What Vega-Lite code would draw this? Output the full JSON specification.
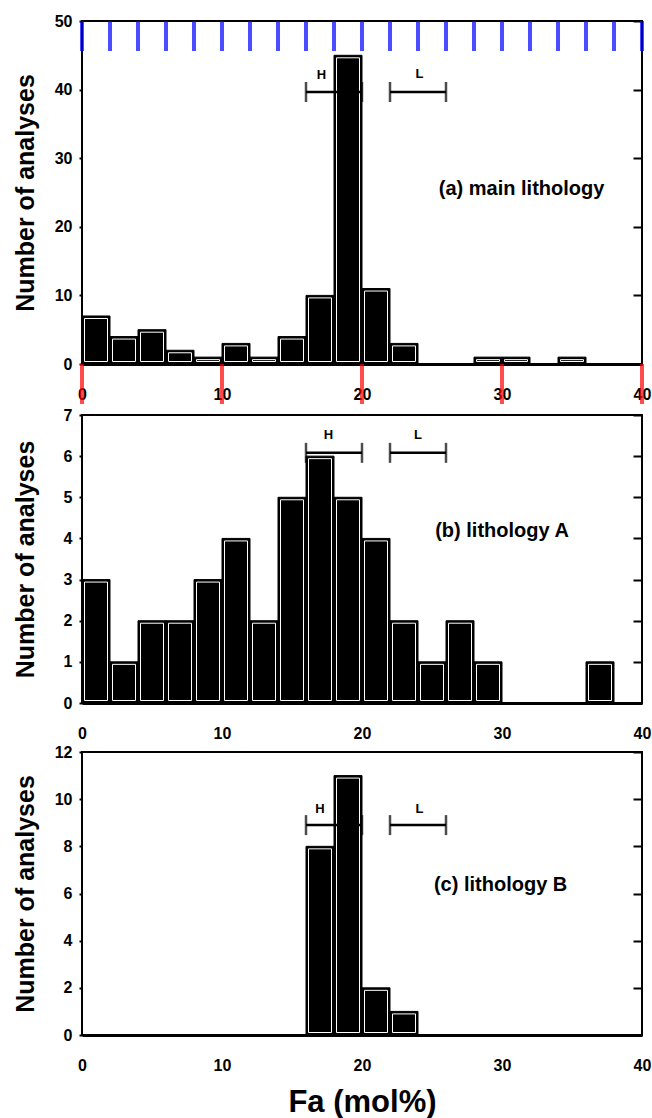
{
  "$schema": "https://vega.github.io/schema/vega-lite/v6.json",
  "background": "white",
  "padding": {"left": 12, "top": 12, "right": 0, "bottom": 0},
  "datasets": {
    "bars": [
      {"p": "a", "lo": 0, "hi": 2, "n": 7},
      {"p": "a", "lo": 2, "hi": 4, "n": 4},
      {"p": "a", "lo": 4, "hi": 6, "n": 5},
      {"p": "a", "lo": 6, "hi": 8, "n": 2},
      {"p": "a", "lo": 8, "hi": 10, "n": 1},
      {"p": "a", "lo": 10, "hi": 12, "n": 3},
      {"p": "a", "lo": 12, "hi": 14, "n": 1},
      {"p": "a", "lo": 14, "hi": 16, "n": 4},
      {"p": "a", "lo": 16, "hi": 18, "n": 10},
      {"p": "a", "lo": 18, "hi": 20, "n": 45},
      {"p": "a", "lo": 20, "hi": 22, "n": 11},
      {"p": "a", "lo": 22, "hi": 24, "n": 3},
      {"p": "a", "lo": 28, "hi": 30, "n": 1},
      {"p": "a", "lo": 30, "hi": 32, "n": 1},
      {"p": "a", "lo": 34, "hi": 36, "n": 1},
      {"p": "b", "lo": 0, "hi": 2, "n": 3},
      {"p": "b", "lo": 2, "hi": 4, "n": 1},
      {"p": "b", "lo": 4, "hi": 6, "n": 2},
      {"p": "b", "lo": 6, "hi": 8, "n": 2},
      {"p": "b", "lo": 8, "hi": 10, "n": 3},
      {"p": "b", "lo": 10, "hi": 12, "n": 4},
      {"p": "b", "lo": 12, "hi": 14, "n": 2},
      {"p": "b", "lo": 14, "hi": 16, "n": 5},
      {"p": "b", "lo": 16, "hi": 18, "n": 6},
      {"p": "b", "lo": 18, "hi": 20, "n": 5},
      {"p": "b", "lo": 20, "hi": 22, "n": 4},
      {"p": "b", "lo": 22, "hi": 24, "n": 2},
      {"p": "b", "lo": 24, "hi": 26, "n": 1},
      {"p": "b", "lo": 26, "hi": 28, "n": 2},
      {"p": "b", "lo": 28, "hi": 30, "n": 1},
      {"p": "b", "lo": 36, "hi": 38, "n": 1},
      {"p": "c", "lo": 16, "hi": 18, "n": 8},
      {"p": "c", "lo": 18, "hi": 20, "n": 11},
      {"p": "c", "lo": 20, "hi": 22, "n": 2},
      {"p": "c", "lo": 22, "hi": 24, "n": 1}
    ],
    "ranges": [
      {"p": "a", "name": "H", "lo": 16, "hi": 20, "y": 39.65, "lx": 17.1, "ly": 42.2},
      {"p": "a", "name": "L", "lo": 22, "hi": 26, "y": 39.65, "lx": 24.1, "ly": 42.3},
      {"p": "b", "name": "H", "lo": 16, "hi": 20, "y": 6.08, "lx": 17.6, "ly": 6.52},
      {"p": "b", "name": "L", "lo": 22, "hi": 26, "y": 6.08, "lx": 24.0, "ly": 6.52},
      {"p": "c", "name": "H", "lo": 16, "hi": 20, "y": 8.9, "lx": 17.0, "ly": 9.6},
      {"p": "c", "name": "L", "lo": 22, "hi": 26, "y": 8.9, "lx": 24.1, "ly": 9.6}
    ],
    "labels": [
      {"p": "a", "text": "(a) main lithology", "x": 31.4, "y": 25.5},
      {"p": "b", "text": "(b) lithology A", "x": 30.0, "y": 4.18},
      {"p": "c", "text": "(c) lithology B", "x": 29.9, "y": 6.35}
    ],
    "xt": [
      {"v": 0, "major": true}, {"v": 2, "major": false}, {"v": 4, "major": false}, {"v": 6, "major": false}, {"v": 8, "major": false},
      {"v": 10, "major": true}, {"v": 12, "major": false}, {"v": 14, "major": false}, {"v": 16, "major": false}, {"v": 18, "major": false},
      {"v": 20, "major": true}, {"v": 22, "major": false}, {"v": 24, "major": false}, {"v": 26, "major": false}, {"v": 28, "major": false},
      {"v": 30, "major": true}, {"v": 32, "major": false}, {"v": 34, "major": false}, {"v": 36, "major": false}, {"v": 38, "major": false},
      {"v": 40, "major": true}
    ]
  },
  "vconcat": [
    {
      "width": 560,
      "height": 343,
      "resolve": {"axis": {"x": "independent", "y": "independent"}},
      "layer": [
        {
          "data": {"name": "bars"},
          "transform": [{"filter": "datum.p === 'a'"}],
          "mark": {"type": "bar", "color": "black", "stroke": "black", "strokeWidth": 1},
          "encoding": {
            "x": {"field": "lo", "type": "quantitative", "scale": {"domain": [0, 40], "nice": false, "zero": false},
              "axis": {"orient": "bottom", "title": null, "values": [0,10,20,30,40], "domainWidth": 3, "ticks": false, "labelPadding": 22, "labelFlush": false}},
            "x2": {"field": "hi"},
            "y": {"field": "n", "type": "quantitative", "scale": {"domain": [0, 50], "nice": false},
              "axis": {"orient": "left", "values": [0,10,20,30,40,50], "title": "Number of analyses", "ticks": true, "tickSize": 3, "labelPadding": 7,
                "domain": false, "titleX": -57, "titleBaseline": "middle", "titleFontSize": 25, "titleFontWeight": "bold"}},
            "y2": {"datum": 0}
          }
        },
        {
          "data": {"name": "bars"},
          "transform": [{"filter": "datum.p === 'a'"}],
          "mark": {"type": "bar", "filled": false, "stroke": "white", "strokeWidth": 1, "xOffset": 2.5, "x2Offset": -2.5, "yOffset": 2.5, "y2Offset": -2.5},
          "encoding": {
            "x": {"field": "lo", "type": "quantitative", "axis": null},
            "x2": {"field": "hi"},
            "y": {"field": "n", "type": "quantitative",
              "axis": {"orient": "right", "title": null, "labels": false, "domain": false, "ticks": true, "tickSize": 9, "offset": -9, "values": [0,10,20,30,40,50]}},
            "y2": {"datum": 0}
          }
        },
        {
          "data": {"name": "xt"},
          "transform": [{"filter": "datum.major"}],
          "mark": {"type": "tick", "orient": "vertical", "color": "red", "size": 40, "thickness": 4, "yOffset": 20},
          "encoding": {
            "x": {"field": "v", "type": "quantitative", "axis": null},
            "y": {"datum": 0, "type": "quantitative", "axis": null}
          }
        },
        {
          "data": {"name": "xt"},
          "mark": {"type": "tick", "orient": "vertical", "color": "blue", "size": 30, "thickness": 4, "yOffset": 15},
          "encoding": {
            "x": {"field": "v", "type": "quantitative", "axis": null},
            "y": {"datum": 50, "type": "quantitative", "axis": null}
          }
        },
        {
          "data": {"name": "ranges"},
          "transform": [{"filter": "datum.p === 'a'"}],
          "mark": {"type": "rule", "color": "black", "strokeWidth": 2.5},
          "encoding": {
            "x": {"field": "lo", "type": "quantitative", "axis": null},
            "x2": {"field": "hi"},
            "y": {"field": "y", "type": "quantitative", "axis": null}
          }
        },
        {
          "data": {"name": "ranges"},
          "transform": [{"filter": "datum.p === 'a'"}, {"fold": ["lo", "hi"], "as": ["k", "xv"]}],
          "mark": {"type": "tick", "orient": "vertical", "color": "black", "size": 20, "thickness": 2.5},
          "encoding": {
            "x": {"field": "xv", "type": "quantitative", "axis": null},
            "y": {"field": "y", "type": "quantitative", "axis": null}
          }
        },
        {
          "data": {"name": "ranges"},
          "transform": [{"filter": "datum.p === 'a'"}],
          "mark": {"type": "text", "font": "Liberation Sans", "fontWeight": "bold", "fontSize": 13, "color": "black"},
          "encoding": {
            "x": {"field": "lx", "type": "quantitative", "axis": null},
            "y": {"field": "ly", "type": "quantitative", "axis": null},
            "text": {"field": "name"}
          }
        },
        {
          "data": {"name": "labels"},
          "transform": [{"filter": "datum.p === 'a'"}],
          "mark": {"type": "text", "font": "Liberation Sans", "fontWeight": "bold", "fontSize": 20, "color": "black"},
          "encoding": {
            "x": {"field": "x", "type": "quantitative", "axis": null},
            "y": {"field": "y", "type": "quantitative", "axis": null},
            "text": {"field": "text"}
          }
        }
      ]
    },
    {
      "width": 560,
      "height": 288,
      "resolve": {"axis": {"x": "independent", "y": "independent"}},
      "layer": [
        {
          "data": {"name": "bars"},
          "transform": [{"filter": "datum.p === 'b'"}],
          "mark": {"type": "bar", "color": "black", "stroke": "black", "strokeWidth": 1},
          "encoding": {
            "x": {"field": "lo", "type": "quantitative", "scale": {"domain": [0, 40], "nice": false, "zero": false},
              "axis": {"orient": "bottom", "title": null, "values": [0,10,20,30,40], "domainWidth": 3, "ticks": false, "labelPadding": 22, "labelFlush": false}},
            "x2": {"field": "hi"},
            "y": {"field": "n", "type": "quantitative", "scale": {"domain": [0, 7], "nice": false},
              "axis": {"orient": "left", "values": [0,1,2,3,4,5,6,7], "title": "Number of analyses", "ticks": true, "tickSize": 3, "labelPadding": 7,
                "domain": false, "titleX": -57, "titleBaseline": "middle", "titleFontSize": 25, "titleFontWeight": "bold"}},
            "y2": {"datum": 0}
          }
        },
        {
          "data": {"name": "bars"},
          "transform": [{"filter": "datum.p === 'b'"}],
          "mark": {"type": "bar", "filled": false, "stroke": "white", "strokeWidth": 1, "xOffset": 2.5, "x2Offset": -2.5, "yOffset": 2.5, "y2Offset": -2.5},
          "encoding": {
            "x": {"field": "lo", "type": "quantitative", "axis": null},
            "x2": {"field": "hi"},
            "y": {"field": "n", "type": "quantitative",
              "axis": {"orient": "right", "title": null, "labels": false, "domain": false, "ticks": true, "tickSize": 9, "offset": -9, "values": [0,1,2,3,4,5,6,7]}},
            "y2": {"datum": 0}
          }
        },
        {
          "data": {"name": "ranges"},
          "transform": [{"filter": "datum.p === 'b'"}],
          "mark": {"type": "rule", "color": "black", "strokeWidth": 2.5},
          "encoding": {
            "x": {"field": "lo", "type": "quantitative", "axis": null},
            "x2": {"field": "hi"},
            "y": {"field": "y", "type": "quantitative", "axis": null}
          }
        },
        {
          "data": {"name": "ranges"},
          "transform": [{"filter": "datum.p === 'b'"}, {"fold": ["lo", "hi"], "as": ["k", "xv"]}],
          "mark": {"type": "tick", "orient": "vertical", "color": "black", "size": 20, "thickness": 2.5},
          "encoding": {
            "x": {"field": "xv", "type": "quantitative", "axis": null},
            "y": {"field": "y", "type": "quantitative", "axis": null}
          }
        },
        {
          "data": {"name": "ranges"},
          "transform": [{"filter": "datum.p === 'b'"}],
          "mark": {"type": "text", "font": "Liberation Sans", "fontWeight": "bold", "fontSize": 13, "color": "black"},
          "encoding": {
            "x": {"field": "lx", "type": "quantitative", "axis": null},
            "y": {"field": "ly", "type": "quantitative", "axis": null},
            "text": {"field": "name"}
          }
        },
        {
          "data": {"name": "labels"},
          "transform": [{"filter": "datum.p === 'b'"}],
          "mark": {"type": "text", "font": "Liberation Sans", "fontWeight": "bold", "fontSize": 20, "color": "black"},
          "encoding": {
            "x": {"field": "x", "type": "quantitative", "axis": null},
            "y": {"field": "y", "type": "quantitative", "axis": null},
            "text": {"field": "text"}
          }
        }
      ]
    },
    {
      "width": 560,
      "height": 283,
      "resolve": {"axis": {"x": "independent", "y": "independent"}},
      "layer": [
        {
          "data": {"name": "bars"},
          "transform": [{"filter": "datum.p === 'c'"}],
          "mark": {"type": "bar", "color": "black", "stroke": "black", "strokeWidth": 1},
          "encoding": {
            "x": {"field": "lo", "type": "quantitative", "scale": {"domain": [0, 40], "nice": false, "zero": false},
              "axis": {"orient": "bottom", "title": "Fa (mol%)", "titleFontSize": 31, "titleFontWeight": "bold", "titlePadding": 14,
                "values": [0,10,20,30,40], "domainWidth": 3, "ticks": false, "labelPadding": 22, "labelFlush": false}},
            "x2": {"field": "hi"},
            "y": {"field": "n", "type": "quantitative", "scale": {"domain": [0, 12], "nice": false},
              "axis": {"orient": "left", "values": [0,2,4,6,8,10,12], "title": "Number of analyses", "ticks": true, "tickSize": 3, "labelPadding": 7,
                "domain": false, "titleX": -57, "titleBaseline": "middle", "titleFontSize": 25, "titleFontWeight": "bold"}},
            "y2": {"datum": 0}
          }
        },
        {
          "data": {"name": "bars"},
          "transform": [{"filter": "datum.p === 'c'"}],
          "mark": {"type": "bar", "filled": false, "stroke": "white", "strokeWidth": 1, "xOffset": 2.5, "x2Offset": -2.5, "yOffset": 2.5, "y2Offset": -2.5},
          "encoding": {
            "x": {"field": "lo", "type": "quantitative", "axis": null},
            "x2": {"field": "hi"},
            "y": {"field": "n", "type": "quantitative",
              "axis": {"orient": "right", "title": null, "labels": false, "domain": false, "ticks": true, "tickSize": 9, "offset": -9, "values": [0,2,4,6,8,10,12]}},
            "y2": {"datum": 0}
          }
        },
        {
          "data": {"name": "ranges"},
          "transform": [{"filter": "datum.p === 'c'"}],
          "mark": {"type": "rule", "color": "black", "strokeWidth": 2.5},
          "encoding": {
            "x": {"field": "lo", "type": "quantitative", "axis": null},
            "x2": {"field": "hi"},
            "y": {"field": "y", "type": "quantitative", "axis": null}
          }
        },
        {
          "data": {"name": "ranges"},
          "transform": [{"filter": "datum.p === 'c'"}, {"fold": ["lo", "hi"], "as": ["k", "xv"]}],
          "mark": {"type": "tick", "orient": "vertical", "color": "black", "size": 20, "thickness": 2.5},
          "encoding": {
            "x": {"field": "xv", "type": "quantitative", "axis": null},
            "y": {"field": "y", "type": "quantitative", "axis": null}
          }
        },
        {
          "data": {"name": "ranges"},
          "transform": [{"filter": "datum.p === 'c'"}],
          "mark": {"type": "text", "font": "Liberation Sans", "fontWeight": "bold", "fontSize": 13, "color": "black"},
          "encoding": {
            "x": {"field": "lx", "type": "quantitative", "axis": null},
            "y": {"field": "ly", "type": "quantitative", "axis": null},
            "text": {"field": "name"}
          }
        },
        {
          "data": {"name": "labels"},
          "transform": [{"filter": "datum.p === 'c'"}],
          "mark": {"type": "text", "font": "Liberation Sans", "fontWeight": "bold", "fontSize": 20, "color": "black"},
          "encoding": {
            "x": {"field": "x", "type": "quantitative", "axis": null},
            "y": {"field": "y", "type": "quantitative", "axis": null},
            "text": {"field": "text"}
          }
        }
      ]
    }
  ],
  "config": {
    "view": {"stroke": "black", "strokeWidth": 2},
    "concat": {"spacing": 1},
    "axis": {
      "grid": false,
      "labelFont": "Liberation Sans", "labelFontWeight": "bold", "labelFontSize": 16, "labelColor": "black",
      "titleFont": "Liberation Sans", "titleColor": "black",
      "tickColor": "black", "tickWidth": 2, "domainColor": "black"
    }
  }
}
